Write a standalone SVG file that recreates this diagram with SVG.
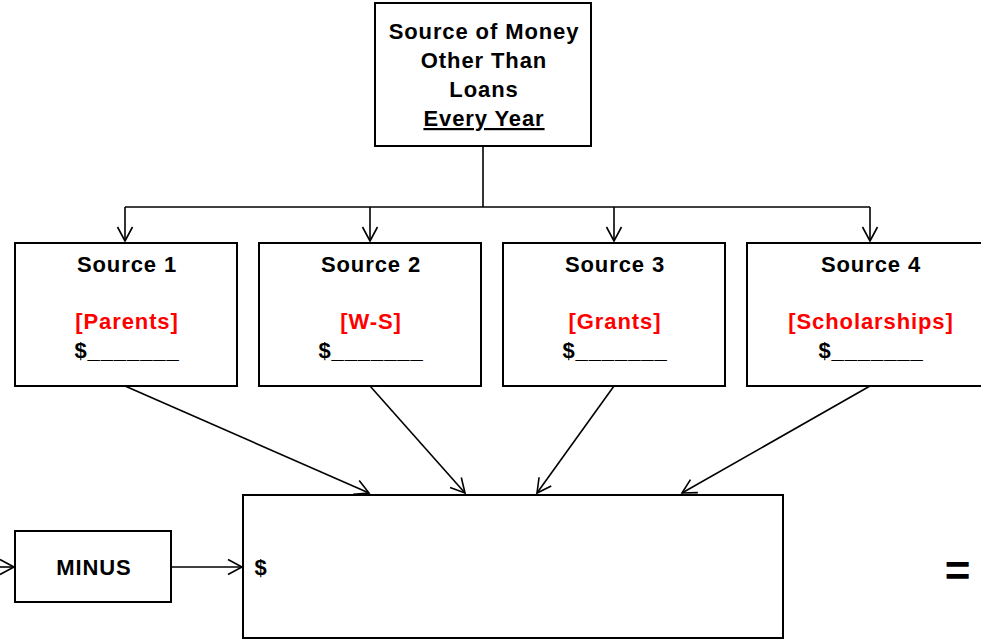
<svg xmlns="http://www.w3.org/2000/svg" width="981" height="642" viewBox="0 0 981 642">
<style>
.box{fill:#fff;stroke:#000;stroke-width:2}
.t{font-family:"Liberation Sans",Arial,sans-serif;font-weight:bold;font-size:22px;letter-spacing:0.9px;text-anchor:middle;fill:#000}
.r{fill:#ff0000}
.c{fill:none;stroke:#000;stroke-width:1.6}
</style>
<defs>
<marker id="ah" markerWidth="18" markerHeight="18" viewBox="-15 -9 17 18" refX="0" refY="0" orient="auto" markerUnits="userSpaceOnUse">
<polyline points="-14,-7.5 0,0 -14,7.5" fill="none" stroke="#000" stroke-width="1.6"/>
</marker>
</defs>
<rect width="981" height="642" fill="#fff"/>
<g id="connectors">
<polyline class="c" points="483,146 483,207"/>
<polyline class="c" points="125,207 870,207"/>
<line class="c" x1="125" y1="207" x2="125" y2="241" marker-end="url(#ah)"/>
<line class="c" x1="370" y1="207" x2="370" y2="241" marker-end="url(#ah)"/>
<line class="c" x1="614" y1="207" x2="614" y2="241" marker-end="url(#ah)"/>
<line class="c" x1="870" y1="207" x2="870" y2="241" marker-end="url(#ah)"/>
<line class="c" x1="125" y1="386" x2="369" y2="493" marker-end="url(#ah)"/>
<line class="c" x1="370" y1="386" x2="465" y2="493" marker-end="url(#ah)"/>
<line class="c" x1="614" y1="386" x2="537" y2="493" marker-end="url(#ah)"/>
<line class="c" x1="870" y1="386" x2="682" y2="493" marker-end="url(#ah)"/>
<line class="c" x1="-5" y1="567" x2="14" y2="567" marker-end="url(#ah)"/>
<line class="c" x1="171" y1="567" x2="242" y2="567" marker-end="url(#ah)"/>
</g>
<g id="top">
<rect class="box" x="375" y="3" width="216" height="143"/>
<text class="t" x="484" y="39">Source of Money</text>
<text class="t" x="484" y="68">Other Than</text>
<text class="t" x="484" y="97">Loans</text>
<text class="t" x="484" y="126" text-decoration="underline">Every Year</text>
</g>
<g id="source1">
<rect class="box" x="15" y="243" width="222" height="143"/>
<text class="t" x="127" y="272">Source 1</text>
<text class="t r" x="127" y="329">[Parents]</text>
<text class="t" x="127" y="358">$_______</text>
</g>
<g id="source2">
<rect class="box" x="259" y="243" width="222" height="143"/>
<text class="t" x="371" y="272">Source 2</text>
<text class="t r" x="371" y="329">[W-S]</text>
<text class="t" x="371" y="358">$_______</text>
</g>
<g id="source3">
<rect class="box" x="503" y="243" width="222" height="143"/>
<text class="t" x="615" y="272">Source 3</text>
<text class="t r" x="615" y="329">[Grants]</text>
<text class="t" x="615" y="358">$_______</text>
</g>
<g id="source4">
<rect class="box" x="747" y="243" width="250" height="143"/>
<text class="t" x="871" y="272">Source 4</text>
<text class="t r" x="871" y="329">[Scholarships]</text>
<text class="t" x="871" y="358">$_______</text>
</g>
<g id="minus">
<rect class="box" x="15" y="531" width="156" height="71"/>
<text class="t" x="94" y="575">MINUS</text>
</g>
<g id="result">
<rect class="box" x="243" y="495" width="540" height="143"/>
<text class="t" x="261" y="575">$</text>
</g>
<g id="equals">
<text class="t" x="958" y="586" style="font-size:44px">=</text>
</g>
</svg>
